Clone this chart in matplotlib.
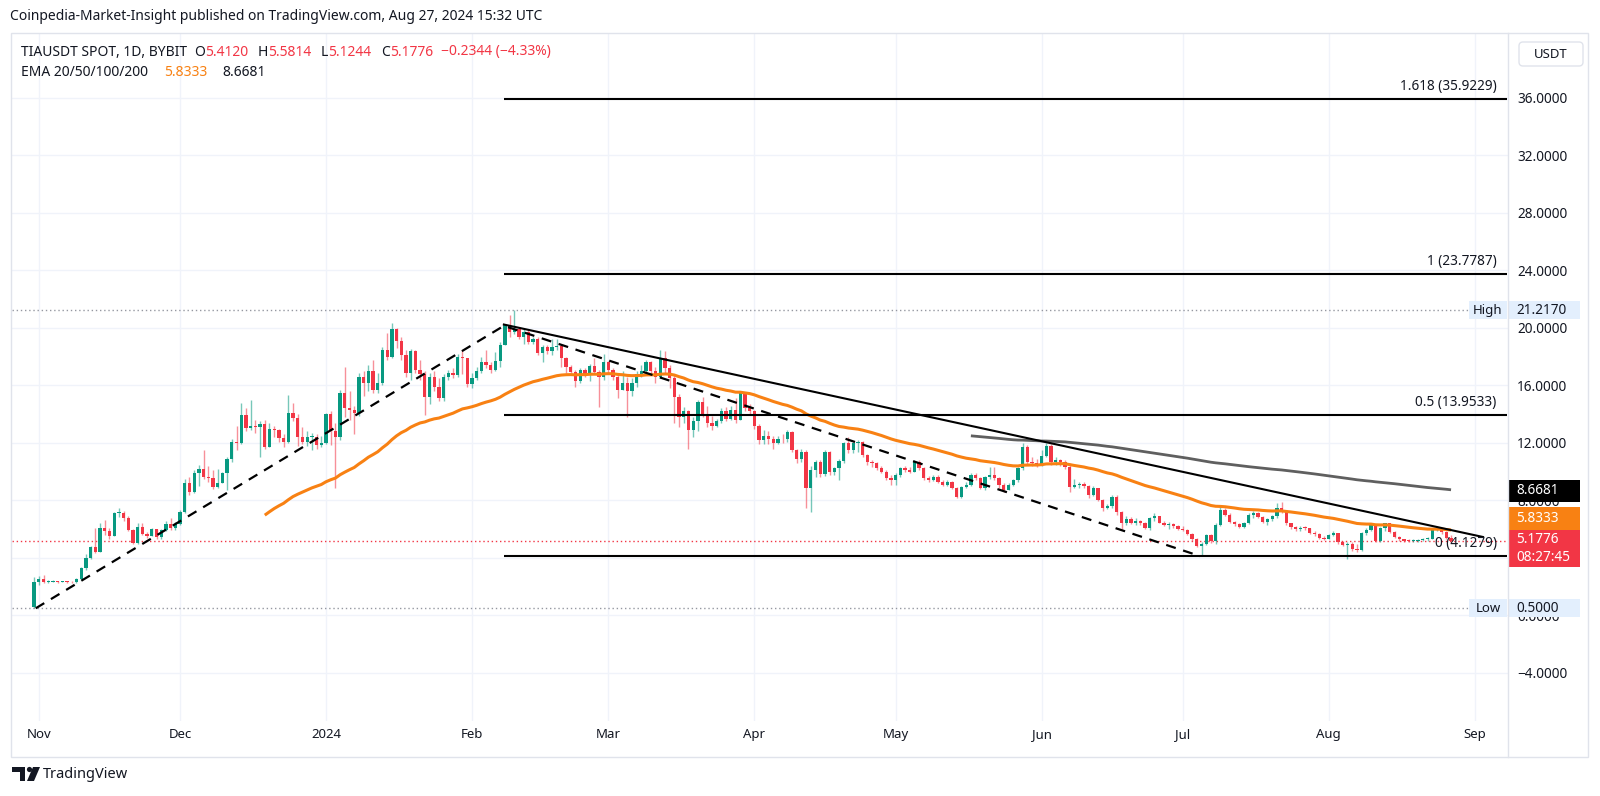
import numpy as np
import matplotlib
matplotlib.use("Agg")
import matplotlib.pyplot as plt
import matplotlib.dates as mdates
from matplotlib.patches import Rectangle, FancyBboxPatch, Polygon, Circle
import pandas as pd

plt.rcParams['font.family'] = ['Noto Sans', 'DejaVu Sans']

# ---------------- data (daily TIAUSDT) ----------------
open_first = 0.62
c_oct = [2.33]
h_oct = [2.70]
l_oct = [0.50]

c_nov = [2.52, 2.33, 2.36, 2.40, 2.33, 2.36, 2.32, 2.30, 2.55, 3.28, 3.98, 4.75, 4.44, 6.06, 5.85, 5.55, 7.11, 7.15, 6.76, 5.95, 5.07, 6.18, 5.67, 5.53, 6.00, 5.49, 5.95, 6.37, 6.06, 6.37]
h_nov = [2.75, 2.85, 2.45, 2.46, 2.42, 2.42, 2.40, 2.37, 2.62, 3.35, 4.30, 4.85, 6.06, 6.41, 6.65, 6.10, 7.20, 7.46, 7.30, 6.90, 6.00, 6.40, 6.45, 5.80, 6.10, 6.00, 6.05, 6.60, 6.75, 6.50]
l_nov = [2.15, 2.28, 2.28, 2.32, 2.28, 2.30, 2.28, 2.25, 2.28, 2.45, 3.15, 3.95, 4.35, 4.40, 5.60, 5.30, 5.50, 6.85, 6.60, 5.85, 4.98, 5.00, 5.60, 5.40, 5.50, 5.35, 5.30, 5.90, 5.95, 5.95]

c_dec = [7.22, 9.24, 8.62, 9.89, 10.17, 9.66, 9.54, 8.92, 9.20, 9.89, 10.86, 12.09, 12.00, 13.95, 13.02, 13.20, 13.10, 13.30, 11.75, 13.00, 12.90, 12.33, 12.09, 14.06, 13.72, 12.44, 12.10, 12.40, 12.44, 11.86, 12.00]
h_dec = [7.35, 9.50, 9.60, 10.10, 10.50, 11.50, 10.40, 10.10, 10.20, 10.00, 11.00, 12.30, 13.20, 14.76, 14.40, 14.99, 13.60, 13.50, 13.60, 13.40, 13.20, 13.00, 12.60, 15.34, 14.76, 14.00, 13.10, 12.80, 12.70, 12.60, 12.50]
l_dec = [6.30, 7.10, 8.40, 8.50, 9.00, 9.50, 9.30, 8.80, 8.90, 9.20, 8.73, 10.70, 11.50, 11.90, 12.80, 12.90, 12.70, 11.05, 11.60, 11.70, 12.40, 12.10, 11.75, 12.00, 13.50, 11.80, 11.90, 11.80, 11.50, 11.60, 11.70]

c_jan = [13.99, 12.86, 12.40, 15.50, 14.40, 14.30, 14.10, 16.60, 16.20, 17.00, 15.70, 16.20, 18.50, 18.00, 19.90, 19.10, 18.10, 16.85, 18.40, 17.10, 16.80, 15.22, 16.60, 15.90, 15.10, 16.60, 16.90, 16.70, 18.00, 17.90, 16.10]
h_jan = [14.10, 14.20, 13.37, 15.70, 17.26, 15.60, 14.60, 16.90, 17.00, 17.40, 17.80, 16.90, 18.70, 19.63, 20.37, 20.00, 19.40, 18.50, 18.55, 18.50, 17.80, 17.00, 16.90, 17.00, 16.50, 16.80, 17.10, 17.20, 18.20, 18.50, 17.90]
l_jan = [11.90, 11.85, 8.85, 12.20, 13.80, 13.60, 12.60, 13.90, 15.30, 15.60, 15.50, 15.50, 16.00, 17.80, 17.90, 18.60, 17.80, 16.60, 16.40, 16.90, 16.40, 13.95, 14.70, 15.60, 14.90, 14.90, 16.40, 16.50, 16.60, 16.80, 15.90]

c_feb = [16.50, 17.03, 17.66, 17.40, 17.10, 17.70, 18.82, 20.20, 19.75, 19.95, 19.40, 19.74, 19.05, 19.20, 18.24, 18.65, 18.40, 18.70, 18.75, 17.89, 17.31, 16.96, 16.34, 17.08, 16.80, 17.35, 16.95, 16.60, 17.60]
h_feb = [16.90, 17.30, 18.00, 18.50, 17.60, 18.30, 19.00, 20.30, 20.90, 21.217, 20.00, 19.90, 19.90, 19.35, 19.40, 18.80, 18.80, 19.20, 19.20, 18.90, 17.95, 17.40, 17.10, 17.20, 17.20, 17.50, 17.90, 17.10, 18.20]
l_feb = [15.80, 16.40, 16.90, 17.20, 16.90, 17.00, 17.30, 18.80, 19.40, 19.60, 19.20, 18.90, 18.90, 18.90, 18.10, 17.66, 18.20, 18.10, 18.50, 17.30, 16.85, 16.85, 15.90, 16.20, 16.60, 16.30, 16.80, 14.53, 16.40]

c_mar = [17.10, 16.60, 15.70, 16.20, 15.60, 16.20, 16.80, 17.00, 17.60, 17.00, 16.60, 17.89, 17.19, 16.50, 15.22, 13.83, 14.20, 12.90, 13.50, 14.87, 14.00, 13.40, 13.20, 13.50, 14.20, 13.70, 14.30, 13.60, 15.45, 14.41, 14.20]
h_mar = [17.70, 17.20, 16.70, 17.00, 16.60, 16.50, 17.00, 17.40, 17.80, 17.70, 17.30, 18.47, 18.40, 17.40, 16.70, 15.40, 14.50, 14.30, 13.80, 15.00, 15.20, 14.60, 13.90, 13.70, 14.40, 14.50, 14.60, 15.10, 15.60, 15.30, 14.70]
l_mar = [16.80, 16.40, 15.10, 15.70, 13.83, 15.30, 15.90, 16.60, 16.90, 16.70, 16.20, 16.50, 16.90, 15.80, 13.37, 13.10, 13.40, 11.56, 12.40, 12.80, 13.80, 13.10, 12.90, 13.10, 13.40, 13.50, 13.60, 13.40, 13.60, 14.20, 14.00]

c_apr = [13.18, 12.20, 12.50, 12.30, 12.00, 12.30, 12.25, 12.79, 11.51, 10.86, 11.40, 8.85, 10.12, 10.70, 9.84, 11.40, 10.00, 10.24, 10.75, 11.98, 11.51, 11.98, 12.09, 11.16, 10.70, 10.60, 10.24, 10.00, 9.54, 9.43]
h_apr = [14.30, 13.30, 12.90, 12.80, 12.50, 12.50, 12.60, 12.90, 12.85, 11.60, 11.60, 11.50, 10.40, 10.85, 10.80, 11.50, 11.45, 10.35, 10.90, 12.10, 12.45, 12.10, 12.20, 12.15, 11.20, 10.80, 10.70, 10.40, 10.10, 9.80]
l_apr = [13.00, 11.90, 11.90, 11.90, 11.60, 11.90, 12.00, 12.10, 11.40, 10.60, 10.70, 7.45, 7.22, 9.60, 9.60, 9.70, 9.80, 9.80, 9.43, 10.60, 11.30, 11.30, 11.40, 11.00, 10.50, 10.30, 10.10, 9.90, 9.43, 9.08]

c_may = [9.77, 10.24, 10.12, 10.00, 10.70, 10.24, 9.54, 9.43, 9.66, 9.31, 9.10, 9.30, 8.85, 8.27, 8.96, 9.08, 9.77, 9.54, 8.85, 9.66, 9.77, 9.54, 9.08, 8.70, 9.08, 9.43, 10.24, 11.74, 10.70, 10.60, 10.40]
h_may = [9.90, 10.30, 10.40, 10.30, 10.80, 10.80, 10.30, 9.70, 9.75, 9.80, 9.40, 9.40, 9.35, 8.95, 9.00, 9.30, 9.90, 9.90, 9.60, 9.70, 10.35, 10.35, 9.60, 9.20, 9.20, 9.50, 10.35, 11.98, 11.85, 11.00, 10.90]
l_may = [9.08, 9.60, 10.00, 9.90, 9.95, 10.10, 9.40, 9.30, 9.35, 9.20, 9.00, 9.00, 8.80, 8.20, 8.20, 8.90, 9.00, 9.40, 8.80, 8.70, 9.50, 9.40, 8.90, 8.60, 8.70, 9.00, 9.30, 10.10, 10.50, 10.40, 10.30]

c_jun = [11.10, 11.79, 10.70, 10.80, 10.65, 10.35, 8.96, 9.05, 9.15, 9.00, 8.38, 8.85, 8.05, 7.45, 7.60, 8.27, 7.22, 6.40, 6.70, 6.45, 6.60, 6.41, 6.10, 6.75, 6.90, 6.45, 6.30, 6.35, 6.20, 6.05]
h_jun = [11.50, 11.98, 11.90, 11.00, 10.90, 10.80, 10.60, 9.50, 9.30, 9.30, 9.05, 9.00, 8.90, 8.10, 7.75, 8.40, 8.35, 7.30, 6.90, 6.85, 6.75, 6.65, 6.50, 6.85, 7.10, 6.95, 6.55, 6.50, 6.40, 6.30]
l_jun = [10.40, 11.00, 10.50, 10.50, 10.40, 10.20, 8.61, 8.90, 8.90, 8.90, 8.20, 8.30, 7.95, 7.30, 7.40, 7.50, 7.00, 6.05, 6.30, 6.35, 6.30, 6.30, 6.00, 5.95, 6.60, 6.40, 6.20, 6.05, 6.10, 5.95]

c_jul = [5.95, 5.70, 5.30, 4.83, 4.95, 5.60, 5.15, 6.30, 7.34, 6.99, 6.53, 6.37, 6.18, 6.41, 6.99, 7.10, 6.85, 6.50, 6.70, 6.90, 7.45, 7.25, 6.41, 6.18, 6.05, 6.10, 6.08, 5.75, 5.70, 5.40, 5.35]
h_jul = [6.20, 6.00, 5.75, 5.40, 5.10, 5.70, 5.65, 6.40, 7.60, 7.50, 7.10, 6.60, 6.45, 6.50, 7.10, 7.30, 7.20, 6.95, 6.80, 7.00, 7.80, 7.90, 7.30, 6.45, 6.25, 6.20, 6.20, 6.10, 5.90, 5.75, 5.50]
l_jul = [5.85, 5.60, 5.20, 4.75, 4.13, 4.90, 5.05, 5.00, 6.20, 6.90, 6.40, 6.20, 6.10, 6.10, 6.35, 6.80, 6.75, 6.40, 6.30, 6.60, 6.80, 7.10, 6.30, 6.00, 5.90, 5.90, 5.95, 5.65, 5.55, 5.35, 5.25]

c_aug = [5.60, 5.72, 5.10, 4.90, 4.95, 4.60, 4.56, 5.72, 5.95, 6.30, 5.15, 6.06, 6.41, 5.83, 5.48, 5.30, 5.20, 5.18, 5.20, 5.25, 5.30, 5.35, 5.95, 6.06, 5.80, 5.412, 5.1776]
h_aug = [5.70, 5.85, 5.75, 5.20, 5.10, 5.10, 4.95, 5.80, 6.10, 6.40, 6.30, 6.15, 6.45, 6.45, 5.90, 5.55, 5.35, 5.35, 5.30, 5.35, 5.40, 5.45, 6.05, 6.20, 6.10, 5.85, 5.5814]
l_aug = [5.30, 5.50, 5.00, 4.80, 3.90, 4.50, 4.40, 4.50, 5.60, 5.90, 5.10, 5.10, 5.90, 5.75, 5.40, 5.20, 5.10, 5.10, 5.10, 5.10, 5.15, 5.20, 5.30, 5.85, 5.70, 5.35, 5.1244]

closes = c_oct + c_nov + c_dec + c_jan + c_feb + c_mar + c_apr + c_may + c_jun + c_jul + c_aug
highs = h_oct + h_nov + h_dec + h_jan + h_feb + h_mar + h_apr + h_may + h_jun + h_jul + h_aug
lows = l_oct + l_nov + l_dec + l_jan + l_feb + l_mar + l_apr + l_may + l_jun + l_jul + l_aug
assert len(closes) == len(highs) == len(lows) == 302
opens = [open_first] + closes[:-1]
dates = pd.date_range("2023-10-31", periods=len(closes), freq="D")

# Drawings
fib_anchor = [("2023-10-31 08:00", 0.5), ("2024-02-07 19:00", 20.1508), ("2024-07-04 17:00", 4.1279)]
fib_levels = ["1.618", "1", "0.5", "0"]
fib_values = [35.9229, 23.7787, 13.9533, 4.1279]
fib_span = ("2024-02-07 19:00", "2024-09-07 21:00")
trend_line = [("2024-02-07 19:00", 20.24), ("2024-09-02 19:00", 5.46)]
high_val, low_val = 21.2170, 0.5000
last_close = 5.1776
ema50_last, ema200_last = 5.8333, 8.6681
month_ticks = ["2023-11-01", "2023-12-01", "2024-01-01", "2024-02-01", "2024-03-01", "2024-04-01",
               "2024-05-01", "2024-06-01", "2024-07-01", "2024-08-01", "2024-09-01"]
month_labels = ["Nov", "Dec", "2024", "Feb", "Mar", "Apr", "May", "Jun", "Jul", "Aug", "Sep"]
price_ticks = [-4, 0, 4, 8, 12, 16, 20, 24, 28, 32, 36]
hidden_ticks = [4]   # fully covered by the last-price label in the reference

GREEN = "#089981"
RED = "#f23645"
ORANGE = "#f88113"
GRAYEMA = "#4d4d4d"
TXT = "#131722"
GRID = "#f0f3fa"
BORDER = "#e0e3eb"

# ---------------- figure ----------------
W, H = 1600, 796
fig = plt.figure(figsize=(16, 7.96), dpi=100)
fig.patch.set_facecolor("white")
L_, R_, T_, B_ = 12, 1508, 33, 721
ax = fig.add_axes([L_ / W, 1 - B_ / H, (R_ - L_) / W, (B_ - T_) / H])
x0 = mdates.date2num(pd.Timestamp("2023-11-01"))
ax.set_xlim(x0 - 5.7, x0 + 312.1)
ax.set_ylim(-7.34, 40.52)
for s in ax.spines.values():
    s.set_visible(False)

ax.set_yticks(price_ticks)
ax.set_yticklabels(["" if v in hidden_ticks else f"{v:.4f}".replace("-", "\u2212") for v in price_ticks])
ax.yaxis.tick_right()
ax.tick_params(axis="y", length=0, pad=6.5, labelsize=9.8, labelcolor=TXT)
ax.set_xticks(mdates.date2num(pd.to_datetime(month_ticks)))
ax.set_xticklabels(month_labels)
ax.tick_params(axis="x", length=0, pad=5, labelsize=9.5, labelcolor=TXT)
for lab in ax.get_xticklabels():
    if lab.get_text() == "2024":
        lab.set_fontweight("bold")
ax.grid(True, color=GRID, lw=1, zorder=0)
ax.set_axisbelow(True)

# candles
xs = mdates.date2num(dates)
o = np.array(opens)
c = np.array(closes)
hi = np.maximum(np.array(highs), np.maximum(o, c))
lo = np.minimum(np.array(lows), np.minimum(o, c))
up = c >= o
cols = np.where(up, GREEN, RED)
ax.vlines(xs, lo, hi, colors=cols, lw=1, alpha=0.55, zorder=3)
ax.bar(xs, np.maximum(np.abs(c - o), 0.06), bottom=np.minimum(o, c), width=0.7,
       color=cols, linewidth=0, zorder=4)


def ema_tv(vals, n):
    vals = np.asarray(vals, float)
    out = np.full(len(vals), np.nan)
    a = 2.0 / (n + 1)
    out[n - 1] = vals[:n].mean()
    for i in range(n, len(vals)):
        out[i] = a * vals[i] + (1 - a) * out[i - 1]
    return out


ema50 = ema_tv(c, 50)
ema200 = ema_tv(c, 200)
ax.plot(xs, ema50, color=ORANGE, lw=2.2, zorder=5, solid_capstyle="butt")
ax.plot(xs, ema200, color=GRAYEMA, lw=2.0, alpha=0.9, zorder=5, solid_capstyle="butt")

# dotted reference lines
ax.axhline(high_val, color="#9598a1", lw=1, ls=(0, (1, 2)), zorder=2)
ax.axhline(low_val, color="#9598a1", lw=1, ls=(0, (1, 2)), zorder=2)
ax.axhline(last_close, color=RED, lw=1, ls=(0, (1, 2)), zorder=2)

# trend based fib extension
fx = mdates.date2num(pd.to_datetime([p[0] for p in fib_anchor]))
fy = [p[1] for p in fib_anchor]
ax.plot(fx, fy, color="black", lw=1.6, dashes=(4.5, 3.5), zorder=6)
fs0, fs1 = mdates.date2num(pd.to_datetime(list(fib_span)))
ax.hlines(fib_values, fs0, fs1, color="black", lw=1.5, zorder=6)
for lvl, val in zip(fib_levels, fib_values):
    ax.annotate(f"{lvl} ({val:.4f})", xy=(fs1, val), xytext=(-7.5, 3.5), textcoords="offset points",
                ha="right", va="bottom", fontsize=9.8, color=TXT, zorder=7)

tx = mdates.date2num(pd.to_datetime([p[0] for p in trend_line]))
ty = [p[1] for p in trend_line]
ax.plot(tx, ty, color="black", lw=1.5, zorder=6)

# ---------------- overlay in pixel coordinates ----------------
ov = fig.add_axes([0, 0, 1, 1], zorder=10)
ov.set_xlim(0, W)
ov.set_ylim(H, 0)
ov.axis("off")
ov.patch.set_alpha(0)


def ypix(v):
    disp = ax.transData.transform((xs[0], v))
    return H - disp[1]


# frame
ov.add_patch(Rectangle((11, 33), 1577, 724, fill=False, ec=BORDER, lw=1))
ov.plot([R_, R_], [33, 757], color=BORDER, lw=1)

# header
ov.text(10, 17, "Coinpedia-Market-Insight published on TradingView.com, Aug 27, 2024 15:32 UTC",
        fontsize=10, color=TXT, va="center", ha="left")

fig.canvas.draw()
rend = fig.canvas.get_renderer()


def seq(x, y, pieces, size=10):
    for s, colr in pieces:
        t = ov.text(x, y, s, color=colr, fontsize=size, va="center", ha="left")
        x += t.get_window_extent(renderer=rend).width
    return x


seq(21, 52, [("TIAUSDT SPOT, 1D, BYBIT", TXT)])
seq(194, 52, [("O", TXT), ("5.4120", RED)])
seq(258, 52, [("H", TXT), ("5.5814", RED)])
seq(321, 52, [("L", TXT), ("5.1244", RED)])
seq(381, 52, [("C", TXT), ("5.1776", RED)])
seq(441, 52, [("\u22120.2344 (\u22124.33%)", RED)])
seq(21, 73, [("EMA 20/50/100/200", TXT)])
seq(164, 73, [(f"{ema50_last:.4f}", ORANGE)])
seq(222, 73, [(f"{ema200_last:.4f}", TXT)])

# USDT box
ov.add_patch(FancyBboxPatch((1519, 42), 64, 24, boxstyle="round,pad=0,rounding_size=4",
                            fc="white", ec=BORDER, lw=1))
ov.text(1551, 54, "USDT", fontsize=9.5, color=TXT, ha="center", va="center")

# price scale labels
BX0, BX1 = 1509, 1580


def price_box(yc, hgt, fc, lines, tc="white"):
    ov.add_patch(Rectangle((BX0, yc - hgt / 2), BX1 - BX0, hgt, fc=fc, ec="none"))
    n = len(lines)
    for i, s in enumerate(lines):
        ov.text(1516, yc - hgt / 2 + (i + 0.5) * hgt / n, s, fontsize=9.8, color=tc, ha="left", va="center")


yh = ypix(high_val)
ov.add_patch(Rectangle((1469, yh - 9), 38, 18, fc="#e3effd", ec="none"))
ov.text(1488, yh, "High", fontsize=9.5, color=TXT, ha="center", va="center")
price_box(yh, 18, "#e3effd", [f"{high_val:.4f}"], tc=TXT)

yl = ypix(low_val)
ov.add_patch(Rectangle((1469, yl - 9), 38, 18, fc="#e3effd", ec="none"))
ov.text(1488, yl, "Low", fontsize=9.5, color=TXT, ha="center", va="center")
price_box(yl, 18, "#e3effd", [f"{low_val:.4f}"], tc=TXT)

y200 = ypix(ema200_last)
price_box(y200, 22, "#000000", [f"{ema200_last:.4f}"])
ylast = ypix(last_close)
red_top = ylast - 11
price_box(red_top + 18.5, 37, RED, [f"{last_close:.4f}", "08:27:45"])
price_box(red_top - 11.5, 23, ORANGE, [f"{ema50_last:.4f}"])

# TradingView logo
ov.add_patch(Polygon([(12, 767), (25, 767), (25, 781), (19.5, 781), (19.5, 772), (12, 772)],
                     closed=True, fc=TXT, ec="none"))
ov.add_patch(Circle((29.5, 769.5), 2.6, fc=TXT, ec="none"))
ov.add_patch(Polygon([(33, 767), (40, 767), (34, 781), (27, 781)], closed=True, fc=TXT, ec="none"))
ov.text(43, 774, "TradingView", fontsize=10.5, color=TXT, ha="left", va="center")

print("EMA50 last", ema50[-1], "EMA200 last", ema200[-1])
fig.savefig("out.png", dpi=100, facecolor="white")
